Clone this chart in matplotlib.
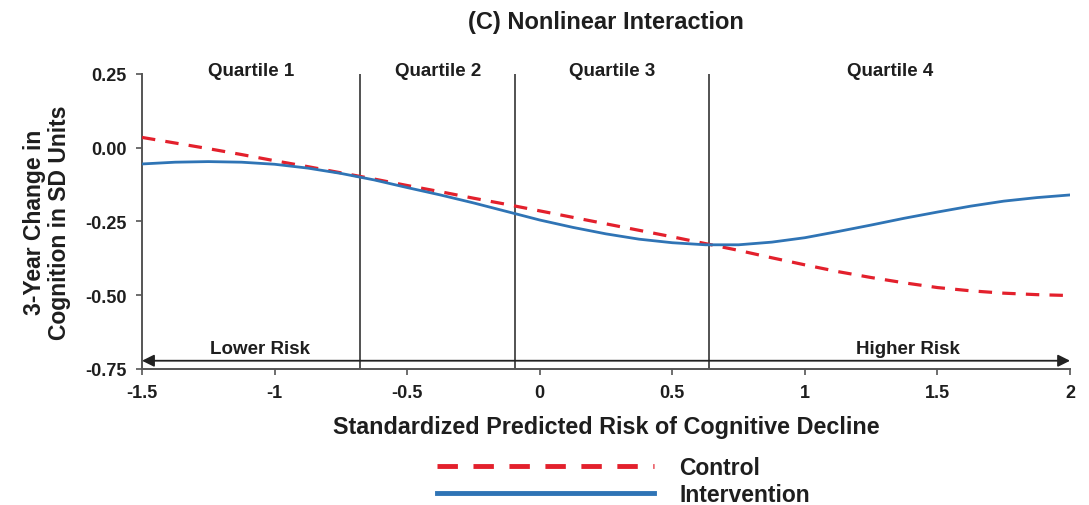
import numpy as np
import matplotlib
matplotlib.use("Agg")
import matplotlib.pyplot as plt

plt.rcParams['font.family'] = ['Liberation Sans', 'DejaVu Sans']

# standardized predicted risk (x) and 3-year change
risk = [-1.5, -1.375, -1.25, -1.125, -1.0, -0.875, -0.75, -0.625, -0.5, -0.375,
        -0.25, -0.125, 0.0, 0.125, 0.25, 0.375, 0.5, 0.625, 0.75, 0.875,
        1.0, 1.125, 1.25, 1.375, 1.5, 1.625, 1.75, 1.875, 2.0]
control = [0.035, 0.016, -0.003, -0.023, -0.044, -0.064, -0.085, -0.106, -0.128, -0.149,
           -0.171, -0.192, -0.214, -0.236, -0.258, -0.280, -0.302, -0.325, -0.348, -0.373,
           -0.397, -0.420, -0.440, -0.458, -0.474, -0.485, -0.493, -0.498, -0.501]
intervention = [-0.055, -0.049, -0.047, -0.049, -0.056, -0.069, -0.087, -0.109, -0.135, -0.160,
                -0.187, -0.216, -0.245, -0.270, -0.292, -0.310, -0.322, -0.329, -0.329, -0.320,
                -0.305, -0.284, -0.262, -0.239, -0.218, -0.198, -0.181, -0.169, -0.160]

quartile_cuts = [-0.677, -0.092, 0.64]
quartile_labels = ['Quartile 1', 'Quartile 2', 'Quartile 3', 'Quartile 4']
xticks = [-1.5, -1, -0.5, 0, 0.5, 1, 1.5, 2]
xtick_labels = ['-1.5', '-1', '-0.5', '0', '0.5', '1', '1.5', '2']
yticks = [0.25, 0.0, -0.25, -0.5, -0.75]
ytick_labels = ['0.25', '0.00', '-0.25', '-0.50', '-0.75']

xmin, xmax = -1.5, 2.0
ymin, ymax = -0.75, 0.25

fig = plt.figure(figsize=(10.89, 5.06), dpi=100)
ax = fig.add_axes([0.1304, 0.2688, 0.8522, 0.583])

red = '#e3202c'
blue = '#2f74b5'
axis_col = '#555555'
txt = '#1e1e1e'

ln_c, = ax.plot(risk, control, color=red, lw=2.3, dashes=(4.2, 3.2), label='Control', zorder=3)
ln_i, = ax.plot(risk, intervention, color=blue, lw=2.0, label='Intervention', zorder=4)

# quartile boundaries
for c in quartile_cuts:
    ax.plot([c, c], [ymin, ymax], color='#444444', lw=1.3, zorder=2)

edges = [xmin] + quartile_cuts + [xmax]
for i, lab in enumerate(quartile_labels):
    ax.text((edges[i] + edges[i + 1]) / 2, 0.262, lab, ha='center', va='center',
            fontsize=13.5, fontweight='bold', color=txt)

# risk arrow
ax.annotate('', xy=(xmax, -0.722), xytext=(xmin, -0.722),
            arrowprops=dict(arrowstyle='<|-|>', color='#222222', lw=1.3,
                            mutation_scale=18, shrinkA=0, shrinkB=0), zorder=5)
ax.text(-1.055, -0.681, 'Lower Risk', ha='center', va='center', fontsize=13.5,
        fontweight='bold', color=txt)
ax.text(1.39, -0.681, 'Higher Risk', ha='center', va='center', fontsize=13.5,
        fontweight='bold', color=txt)

ax.set_xlim(xmin, xmax)
ax.set_ylim(ymin, ymax)
ax.set_xticks(xticks)
ax.set_xticklabels(xtick_labels)
ax.set_yticks(yticks)
ax.set_yticklabels(ytick_labels)
for lab in ax.get_xticklabels() + ax.get_yticklabels():
    lab.set_fontweight('bold')
    lab.set_fontsize(13)
    lab.set_color(txt)
ax.tick_params(axis='both', direction='out', length=4, width=1.2, color=axis_col)
ax.tick_params(axis='x', pad=7)
ax.tick_params(axis='y', pad=7)

for s in ['top', 'right']:
    ax.spines[s].set_visible(False)
for s in ['left', 'bottom']:
    ax.spines[s].set_color(axis_col)
    ax.spines[s].set_linewidth(1.4)

ax.set_xlabel('Standardized Predicted Risk of Cognitive Decline', fontsize=16.8,
              fontweight='bold', color=txt, labelpad=10)
ax.set_ylabel('3-Year Change in\nCognition in SD Units', fontsize=16.5,
              fontweight='bold', color=txt, labelpad=10, linespacing=1.15)

fig.text(0.556, 0.955, '(C) Nonlinear Interaction', ha='center', va='center',
         fontsize=17, fontweight='bold', color=txt,
         family=['Liberation Sans Narrow', 'Liberation Sans'])

leg = fig.legend(handles=[ln_c, ln_i], loc='center left',
                 bbox_to_anchor=(0.382, 0.047), frameon=False, handlelength=9.5,
                 handletextpad=1.1, labelspacing=0.17,
                 prop=dict(size=16.5, weight='bold'))
for h in leg.legend_handles:
    h.set_linewidth(3.5)
for t in leg.get_texts():
    t.set_color(txt)

fig.savefig('out.png', dpi=100)
